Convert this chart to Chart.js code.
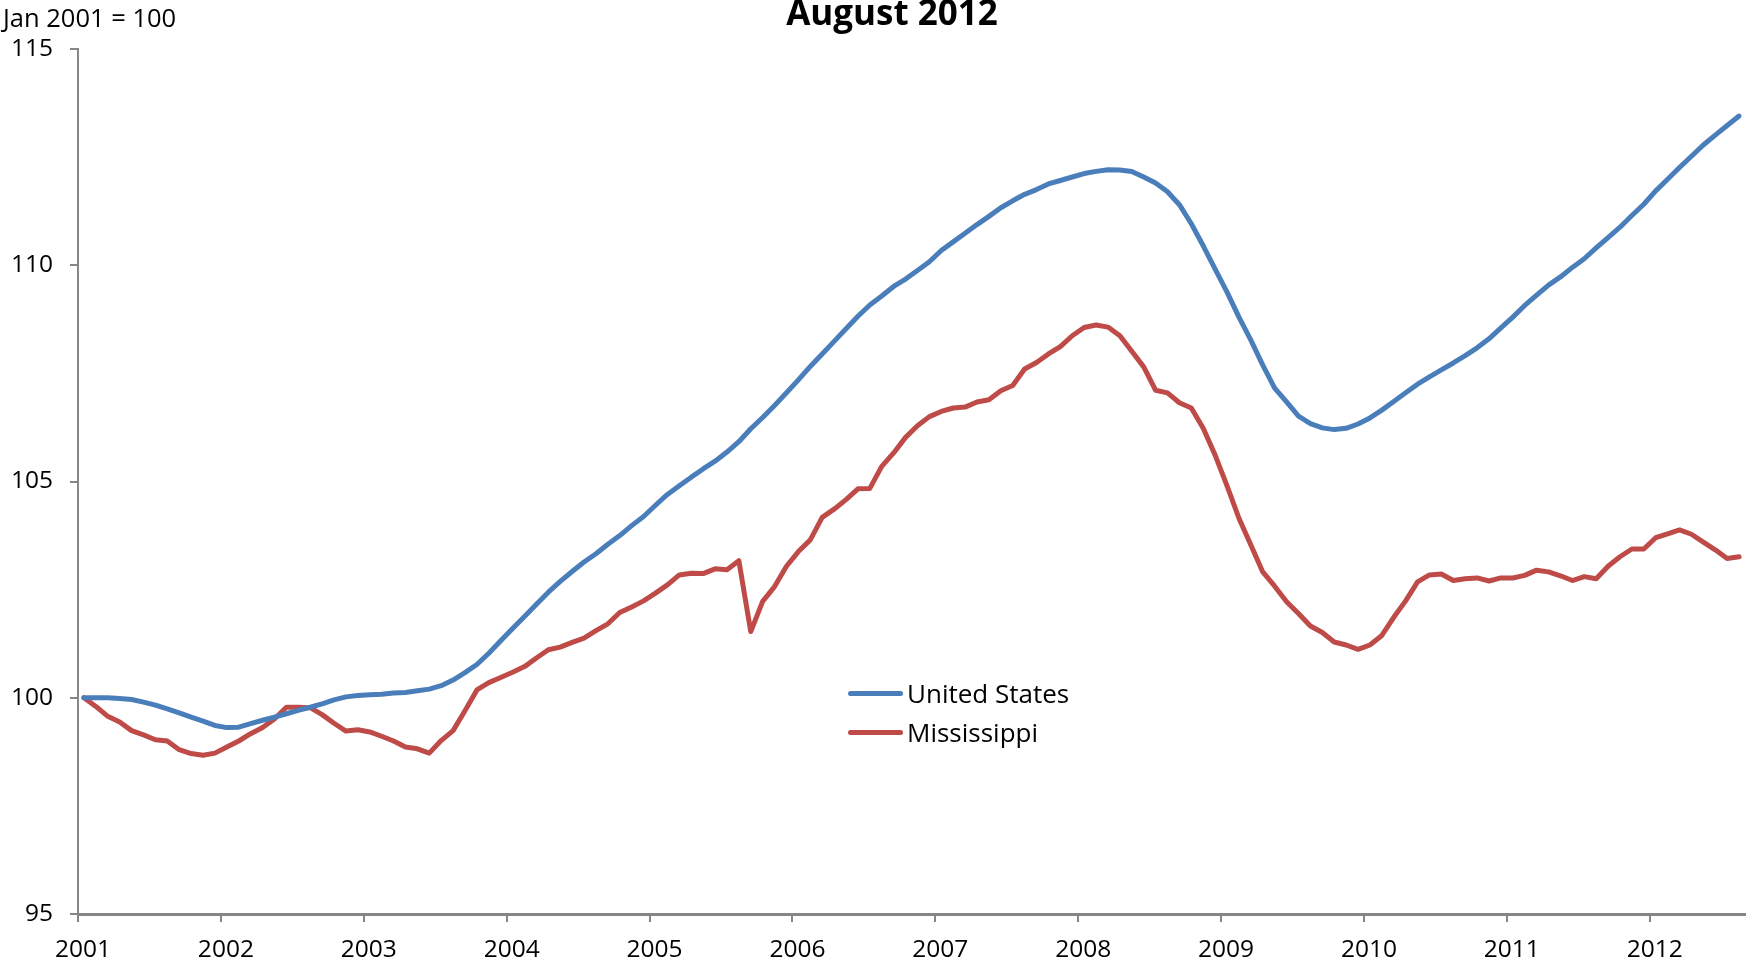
<!DOCTYPE html>
<html>
<head>
<meta charset="utf-8">
<script src="https://cdn.jsdelivr.net/npm/chart.js@4.4.0/dist/chart.umd.min.js"></script>
<style>
  html, body { margin: 0; padding: 0; background: #fff; }
  body { width: 1748px; height: 966px; position: relative; overflow: hidden; font-family: 'Open Sans', sans-serif; color: #000; }
  #wrap { position: absolute; left: 0; top: 0; width: 1748px; height: 966px; }
  .title { position: absolute; left: 0; width: 1784px; top: -6px; text-align: center; font-size: 35px; line-height: 35px; font-weight: bold; white-space: nowrap; }
  .unit { position: absolute; left: 3px; top: 4px; font-size: 25.5px; line-height: 26px; white-space: nowrap; }
  .leg { position: absolute; left: 848px; height: 26px; display: flex; align-items: center; font-size: 26px; line-height: 26px; white-space: nowrap; }
  .leg span.sw { display: inline-block; width: 55px; height: 5px; border-radius: 3px; margin-right: 4px; }
</style>
</head>
<body>
<div id="wrap"><canvas id="hpiChart" width="1748" height="966"></canvas></div>
<div class="title">August 2012</div>
<div class="unit">Jan 2001 = 100</div>
<div class="leg" style="top:680px"><span class="sw" style="background:#4a7ebb"></span>United States</div>
<div class="leg" style="top:719px"><span class="sw" style="background:#be4b48"></span>Mississippi</div>
<script>
// monthly index, Jan 2001 .. Aug 2012 (Jan 2001 = 100)
const years = ['2001','2002','2003','2004','2005','2006','2007','2008','2009','2010','2011','2012'];

const unitedStates = [
  100.0, 100.0, 100.0, 99.98, 99.96, 99.9, 99.83, 99.74, 99.65, 99.55, 99.46, 99.36,
  99.31, 99.32, 99.4, 99.48, 99.55, 99.63, 99.71, 99.78, 99.86, 99.95, 100.02, 100.05,
  100.07, 100.08, 100.11, 100.12, 100.16, 100.2, 100.28, 100.41, 100.58, 100.77, 101.03, 101.32,
  101.6, 101.88, 102.16, 102.44, 102.69, 102.92, 103.14, 103.33, 103.55, 103.75, 103.98, 104.19,
  104.45, 104.7, 104.9, 105.1, 105.29, 105.47, 105.68, 105.92, 106.22, 106.48, 106.76, 107.05,
  107.35, 107.66, 107.95, 108.24, 108.53, 108.82, 109.08, 109.29, 109.51, 109.68, 109.88, 110.08,
  110.34, 110.54, 110.74, 110.94, 111.13, 111.33, 111.49, 111.64, 111.75, 111.88, 111.96, 112.04,
  112.12, 112.17, 112.21, 112.2, 112.17, 112.04, 111.9, 111.7, 111.4, 110.96, 110.45, 109.91,
  109.38, 108.8, 108.27, 107.69, 107.16, 106.84, 106.51, 106.34, 106.24, 106.2, 106.23, 106.33,
  106.47, 106.65, 106.85, 107.05, 107.25, 107.42, 107.58, 107.74, 107.91, 108.09, 108.3, 108.55,
  108.8, 109.07, 109.31, 109.54, 109.73, 109.95, 110.15, 110.4, 110.64, 110.88, 111.15, 111.41,
  111.72, 111.99, 112.26, 112.52, 112.78, 113.01, 113.23, 113.45
];

const mississippi = [
  100.0, 99.8, 99.57, 99.44, 99.24, 99.14, 99.03, 99.0, 98.8, 98.71, 98.67, 98.72,
  98.86, 99.0, 99.17, 99.31, 99.51, 99.78, 99.78, 99.77, 99.61, 99.41, 99.23, 99.26,
  99.21, 99.11, 99.0, 98.86, 98.82, 98.72, 99.01, 99.24, 99.7, 100.18, 100.35, 100.47,
  100.59, 100.72, 100.92, 101.11, 101.17, 101.28, 101.38, 101.55, 101.71, 101.97, 102.1, 102.24,
  102.42, 102.61, 102.84, 102.88, 102.87, 102.98, 102.96, 103.17, 101.53, 102.23, 102.57, 103.04,
  103.38, 103.65, 104.17, 104.36, 104.58, 104.83, 104.84, 105.35, 105.66, 106.02, 106.29, 106.5,
  106.62, 106.7, 106.72, 106.84, 106.89, 107.1, 107.22, 107.6, 107.75, 107.95, 108.12, 108.37,
  108.56, 108.62, 108.57, 108.37, 108.01, 107.65, 107.11, 107.05, 106.82, 106.7, 106.23, 105.61,
  104.9, 104.15, 103.53, 102.91, 102.58, 102.22, 101.95, 101.66, 101.51, 101.29, 101.22, 101.12,
  101.22, 101.44, 101.86, 102.24, 102.68, 102.84, 102.86, 102.71, 102.75, 102.77, 102.7, 102.77,
  102.77, 102.83, 102.95, 102.91, 102.82, 102.71, 102.8, 102.75, 103.04, 103.26, 103.44, 103.44,
  103.7, 103.79, 103.88, 103.78, 103.6, 103.42, 103.22, 103.26
];

const yTicks = [95, 100, 105, 110, 115];

const toPoints = arr => arr.map((v, i) => ({ x: i, y: v }));

Chart.defaults.font.family = "'Open Sans', sans-serif";
Chart.defaults.color = '#000';

const axisGrey = '#868686';

const ctx = document.getElementById('hpiChart').getContext('2d');

new Chart(ctx, {
  type: 'line',
  data: {
    datasets: [{
      label: 'United States',
      data: toPoints(unitedStates),
      borderColor: '#4a7ebb',
      borderWidth: 5,
      pointRadius: 0,
      tension: 0,
      borderJoinStyle: 'round',
      borderCapStyle: 'round'
    }, {
      label: 'Mississippi',
      data: toPoints(mississippi),
      borderColor: '#be4b48',
      borderWidth: 5,
      pointRadius: 0,
      tension: 0,
      borderJoinStyle: 'round',
      borderCapStyle: 'round'
    }]
  },
  options: {
    responsive: false,
    animation: false,
    layout: { padding: { left: 0, right: 3, top: 49, bottom: 0 } },
    plugins: {
      legend: { display: false },
      title: { display: false },
      tooltip: { enabled: false }
    },
    scales: {
      x: {
        type: 'linear',
        min: -0.5,
        max: 139.5,
        afterBuildTicks: scale => {
          scale.ticks = years.map((y, k) => ({ value: k * 12 - 0.5 }));
        },
        afterFit: scale => { scale.height = 52; },
        ticks: {
          autoSkip: false,
          maxRotation: 0,
          padding: 13,
          labelOffset: 5,
          font: { size: 24.5 },
          callback: (v, idx) => years[idx]
        },
        grid: { drawOnChartArea: false, drawTicks: true, tickLength: 8, color: axisGrey, lineWidth: 2 },
        border: { display: true, color: axisGrey, width: 3 }
      },
      y: {
        min: 95,
        max: 115,
        afterBuildTicks: scale => {
          scale.ticks = yTicks.map(v => ({ value: v }));
        },
        afterFit: scale => { scale.width = 78; },
        ticks: {
          padding: 17,
          font: { size: 24.5 }
        },
        grid: { drawOnChartArea: false, drawTicks: true, tickLength: 8, color: axisGrey, lineWidth: 2 },
        border: { display: true, color: axisGrey, width: 2 }
      }
    }
  }
});
</script>
</body>
</html>
